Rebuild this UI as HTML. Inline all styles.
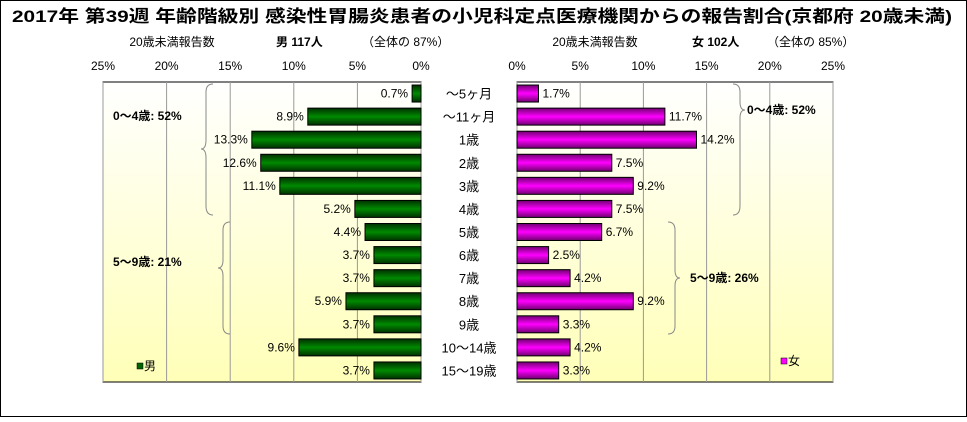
<!DOCTYPE html>
<html><head><meta charset="utf-8"><style>
body{margin:0;background:#fff;}
svg text{font-family:"Liberation Sans","Noto Sans CJK JP",sans-serif;}
</style></head><body>
<svg width="967" height="417" viewBox="0 0 967 417">
<defs>
<linearGradient id="bg" x1="0" y1="0" x2="0" y2="1"><stop offset="0" stop-color="#ffffff"/><stop offset="1" stop-color="#ffffb8"/></linearGradient>
<linearGradient id="gm" x1="0" y1="0" x2="0" y2="1"><stop offset="0" stop-color="#003000"/><stop offset="0.5" stop-color="#008a00"/><stop offset="1" stop-color="#003000"/></linearGradient>
<linearGradient id="gf" x1="0" y1="0" x2="0" y2="1"><stop offset="0" stop-color="#700070"/><stop offset="0.5" stop-color="#ff00ff"/><stop offset="1" stop-color="#700070"/></linearGradient>
</defs>
<rect x="0.5" y="0.5" width="966" height="416" fill="#fff" stroke="#000"/>
<text x="12" y="22" font-size="17" font-weight="bold" textLength="940" lengthAdjust="spacingAndGlyphs">2017年 第39週 年齢階級別 感染性胃腸炎患者の小児科定点医療機関からの報告割合(京都府 20歳未満)</text>
<text x="172" y="46" text-anchor="middle" font-size="12">20歳未満報告数</text>
<text x="276" y="46" font-size="12" font-weight="bold">男 117人</text>
<text x="362" y="46" font-size="12">（全体の 87%）</text>
<text x="595" y="46" text-anchor="middle" font-size="12">20歳未満報告数</text>
<text x="692" y="46" font-size="12" font-weight="bold">女 102人</text>
<text x="767" y="46" font-size="12">（全体の 85%）</text>
<g id="left"></g><g id="right"></g><g id="cats"></g>
<g font-size="12" font-weight="bold">
<path d="M213,84 Q206,84 206,92 L206,140 Q206,149 201,149 Q206,149 206,158 L206,206 Q206,215 213,215" fill="none" stroke="#888"/>
<text x="113" y="120">0〜4歳: 52%</text>
<path d="M230,222 Q223,222 223,230 L223,260 Q223,268 218,268 Q223,268 223,276 L223,326 Q223,334 230,334" fill="none" stroke="#888"/>
<text x="113" y="266">5〜9歳: 21%</text>
<path d="M733,84 Q740,84 740,92 L740,102 Q740,110 745,110 Q740,110 740,118 L740,206 Q740,215 733,215" fill="none" stroke="#888"/>
<text x="747" y="114">0〜4歳: 52%</text>
<path d="M668,222 Q675,222 675,230 L675,270 Q675,278 680,278 Q675,278 675,286 L675,326 Q675,334 668,334" fill="none" stroke="#888"/>
<text x="690" y="282">5〜9歳: 26%</text>
</g>
<g><rect x="137" y="363" width="6" height="6" fill="#006400" stroke="#000" stroke-width="0.5"/><text x="144" y="370" font-size="12">男</text></g>
<g><rect x="781" y="358" width="6" height="6" fill="#ff00ff" stroke="#000" stroke-width="0.5"/><text x="788" y="365" font-size="12">女</text></g>
</svg>
<script>
const categories=["〜5ヶ月","〜11ヶ月","1歳","2歳","3歳","4歳","5歳","6歳","7歳","8歳","9歳","10〜14歳","15〜19歳"];
const maleValues=[0.7,8.9,13.3,12.6,11.1,5.2,4.4,3.7,3.7,5.9,3.7,9.6,3.7];
const femaleValues=[1.7,11.7,14.2,7.5,9.2,7.5,6.7,2.5,4.2,9.2,3.3,4.2,3.3];
const ticks=[0,5,10,15,20,25];
const NS="http://www.w3.org/2000/svg";
const top0=82,bot0=382,rowH=(bot0-top0)/categories.length,barH=17;
const xL=v=>421-v*(318/25), xR=v=>517+v*(316/25);
const yC=i=>top0+rowH*(i+0.5);
function mk(tag,attrs,parent,txt){const e=document.createElementNS(NS,tag);for(const k in attrs)e.setAttribute(k,attrs[k]);if(txt!=null)e.textContent=txt;parent.appendChild(e);return e;}
function panel(g,x0,x1,xf,vals,fill,side){
  const bg=mk('rect',{x:Math.min(x0,x1),y:top0,width:Math.abs(x1-x0),height:bot0-top0,fill:'url(#bg)',stroke:'#000'},g);
  
  
  ticks.forEach(t=>{
    const x=xf(t);
    const l=mk('line',{x1:x,x2:x,y1:top0,y2:bot0,stroke:'#999'},g);
    
    
    const tx=mk('text',{x:x,y:70,'text-anchor':'middle','font-size':12},g,t+'%');
    
    
  });
  vals.forEach((v,i)=>{
    const a=xf(0),b=xf(v),y=yC(i)-barH/2;
    const r=mk('rect',{x:Math.min(a,b),y:y,width:Math.abs(b-a),height:barH,fill:fill,stroke:'#000','stroke-width':1},g);
    
    
    const lx=side==='male'?b-4:b+4;
    const t=mk('text',{x:lx,y:yC(i)+4,'text-anchor':side==='male'?'end':'start','font-size':12},g,v.toFixed(1)+'%');
    
    
  });
}
panel(document.getElementById('left'),103,421,xL,maleValues,'url(#gm)','male');
panel(document.getElementById('right'),517,833,xR,femaleValues,'url(#gf)','female');
const cg=document.getElementById('cats');
categories.forEach((c,i)=>{
  const t=mk('text',{x:469,y:yC(i)+5,'text-anchor':'middle','font-size':13},cg,c);
  
  
});
</script>
</body></html>
